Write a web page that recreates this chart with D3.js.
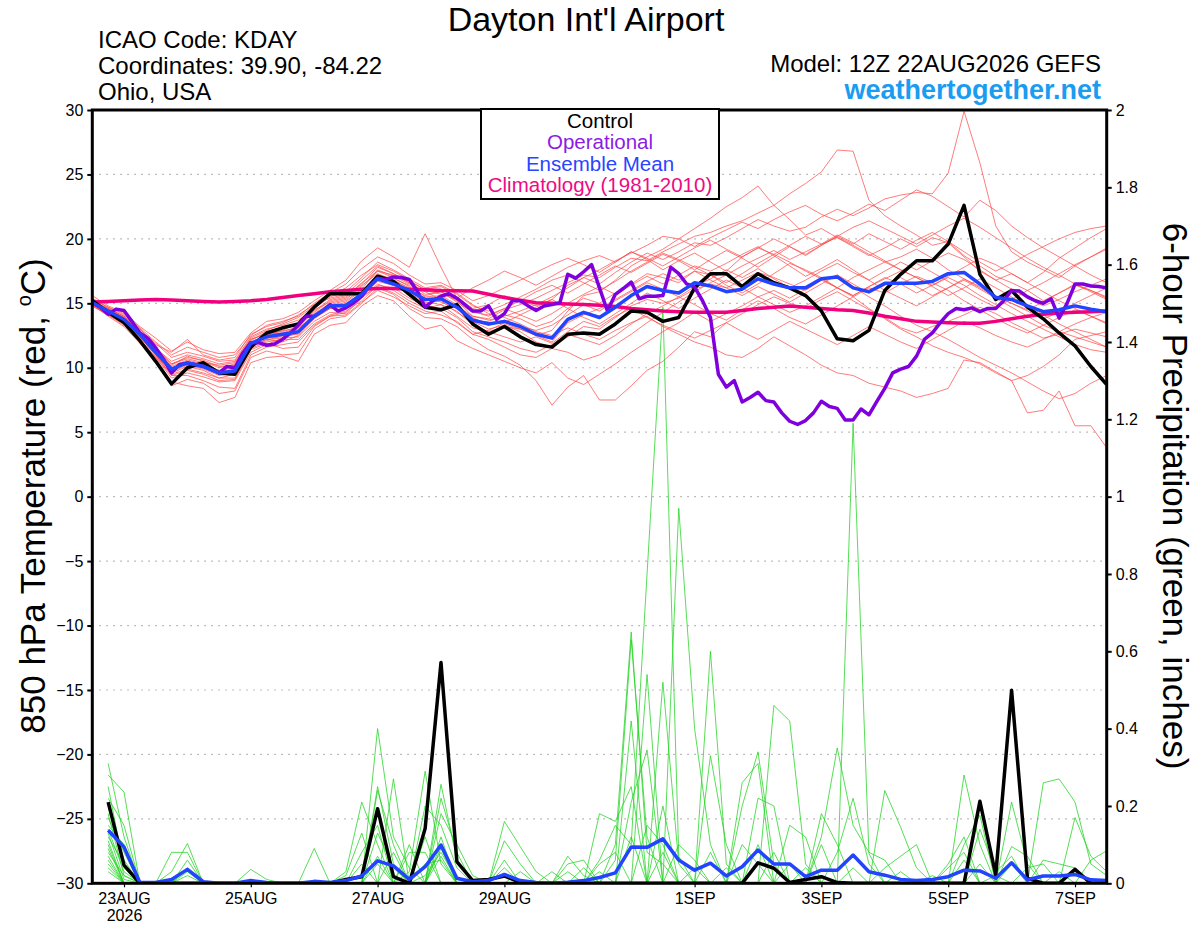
<!DOCTYPE html>
<html>
<head>
<meta charset="utf-8">
<script src="https://d3js.org/d3.v7.min.js"></script>
<style>
body { margin: 0; background: #fff; }
svg { display: block; font-family: "Liberation Sans", Arial, sans-serif; }
</style>
</head>
<body>
<svg id="chart" width="1200" height="927"></svg>
<script>
// 6-hourly steps from 12Z 22AUG2026, 65 points (index 0..64)
const tickDays = ["2026-08-23","2026-08-25","2026-08-27","2026-08-29","2026-09-01","2026-09-03","2026-09-05","2026-09-07"];
const tempTicks = [-30,-25,-20,-15,-10,-5,0,5,10,15,20,25,30];
const precipTicks = [0,0.2,0.4,0.6,0.8,1,1.2,1.4,1.6,1.8,2];

// control run, 850 hPa temperature (C)
const controlTemp = [15.2,14.3,13.5,12.1,10.5,8.75,10.0,10.4,9.6,9.5,
  11.6,12.7,13.1,13.4,14.7,15.75,15.75,15.75,17.1,16.7,
  15.7,14.7,14.5,14.9,13.4,12.6,13.2,12.4,11.8,11.6,
  12.6,12.7,12.6,13.4,14.4,14.3,13.6,13.9,16.2,17.3,
  17.3,16.3,17.3,16.6,16.2,15.6,14.4,12.25,12.1,12.9,
  16.0,17.25,18.3,18.3,19.6,22.6,17.25,15.3,16.0,14.7,
  13.8,12.7,11.7,10.1,8.7];

// ensemble mean temperature
const meanTemp = [15.05,14.4,13.75,12.6,11.2,9.9,10.4,10.1,9.6,9.75,
  11.9,12.4,12.6,12.8,14.0,14.8,14.85,15.7,16.9,16.5,
  16.0,15.3,15.35,14.7,13.7,13.4,13.6,13.2,12.6,12.3,
  13.75,14.3,13.9,14.7,15.6,16.3,16.0,15.8,16.6,16.35,
  15.9,16.1,16.9,16.5,16.2,16.2,16.9,17.05,16.2,15.9,
  16.55,16.55,16.55,16.7,17.3,17.4,16.5,15.45,15.3,14.8,
  14.35,14.5,14.8,14.55,14.35];

// climatology (1981-2010)
const climTemp = [15.1,15.15,15.2,15.25,15.3,15.25,15.2,15.15,15.1,15.15,
  15.2,15.3,15.45,15.6,15.75,15.9,16.0,16.1,16.15,16.15,
  16.1,16.05,16.0,15.98,15.95,15.7,15.45,15.25,15.05,15.0,
  14.95,14.9,14.85,14.75,14.6,14.5,14.4,14.35,14.3,14.3,
  14.3,14.45,14.6,14.7,14.8,14.7,14.6,14.5,14.45,14.25,
  14.0,13.8,13.6,13.55,13.5,13.45,13.45,13.6,13.8,14.0,
  14.15,14.25,14.3,14.35,14.4];

// operational run, 3-hourly (129 points)
const opTemp = [15.05,14.7,14.15,14.55,14.45,13.6,12.7,12.3,11.55,10.65,
  9.6,10.25,10.35,10.25,10.1,9.85,9.6,10.1,10.0,11.15,
  11.95,11.95,11.75,11.85,12.2,12.7,13.3,14.0,14.0,14.4,
  14.9,14.4,14.65,15.05,15.55,16.35,16.95,16.85,17.05,17.0,
  16.85,15.95,14.7,15.2,15.55,15.75,15.4,14.9,14.4,14.4,
  14.8,13.75,14.2,15.2,15.2,14.8,14.45,14.8,14.9,15.05,
  17.25,16.95,17.45,18.0,16.2,14.4,15.7,16.15,16.65,15.35,
  15.55,15.55,15.6,17.8,17.3,16.5,16.25,15.2,13.9,9.5,
  8.5,9.0,7.35,7.7,8.1,7.45,7.35,6.5,5.85,5.6,
  5.9,6.5,7.4,7.0,6.85,5.95,5.95,6.8,6.35,7.4,
  8.4,9.6,9.9,10.1,10.9,12.2,12.7,13.5,14.2,14.6,
  14.5,14.65,14.35,14.6,14.6,15.2,16.0,15.95,15.5,15.2,
  15.0,15.35,13.85,15.0,16.5,16.5,16.35,16.3,16.2];

// ensemble members, temperature (65 points each)
const memberTemp = [
  [15.2,14.6,13.9,12.9,11.6,10.3,10.8,10.6,10.1,10.2,12.1,12.8,13.1, 13.3,14.4,15.3,15.6,16.5,17.8,17.3,16.6,15.9,16.1,15.5,14.6,14.9, 15.6,15.2,14.8,15.3,16.4,17.0,16.5,17.4,18.2,18.9,18.4,19.0,19.7, 19.5,20.1,20.8,21.5,21.0,20.6,20.9,21.7,22.3,21.8,22.4,23.1,23.4, 23.6,23.5,25.1,29.9,25.9,21.0,19.0,18.2,17.6,17.0,17.9,18.6,19.2],
  [15.0,14.3,13.6,12.4,11.0,9.6,10.1,9.8,9.2,9.5,11.6,12.2,12.0, 12.5,13.8,14.6,14.9,15.8,17.1,16.8,16.2,15.6,15.9,15.2,14.0,13.8, 14.5,14.9,15.4,16.0,16.6,17.2,17.0,17.8,18.5,18.3,19.0,19.6,20.2, 20.5,21.0,21.4,22.0,22.6,23.5,24.3,25.2,26.9,26.8,23.0,21.8,21.0, 20.3,19.5,19.8,18.7,17.9,17.1,16.6,16.0,15.2,15.8,16.5,16.0,15.4],
  [14.9,14.2,13.5,12.2,10.8,9.2,9.6,9.3,8.9,9.0,11.2,11.8,12.3, 12.4,13.6,14.3,14.2,15.4,16.5,16.0,15.2,14.6,14.9,14.0,13.1,12.8, 13.2,13.0,12.5,12.9,14.4,15.6,15.9,16.8,17.9,18.6,19.2,20.0,20.8, 21.6,22.5,23.2,24.1,22.6,21.5,20.3,20.8,20.1,19.5,18.8,18.2,18.6, 19.2,18.5,17.6,16.9,16.2,15.5,15.0,14.4,13.8,14.3,15.0,15.6,16.2],
  [15.1,14.5,13.8,12.5,11.1,9.8,10.3,10.0,9.5,9.9,12.0,12.3,12.4, 12.9,14.1,14.7,15.1,16.0,17.2,16.9,16.4,15.5,15.6,14.9,13.6,13.0, 13.3,12.8,12.0,11.6,12.4,13.2,13.0,13.9,14.8,15.3,15.0,15.4,16.1, 16.5,16.2,16.8,17.4,17.0,16.5,16.0,16.8,17.2,16.3,15.5,14.8,14.0, 13.3,12.8,12.2,11.5,10.8,10.2,9.6,8.9,8.2,7.6,8.0,8.8,9.4],
  [14.8,14.1,13.3,12.0,10.6,8.6,9.1,8.8,8.0,8.2,10.8,11.3,11.0, 11.1,13.0,13.8,14.0,15.0,16.2,15.7,14.6,13.9,13.8,13.2,12.2,11.4, 10.9,10.2,9.0,7.1,8.5,9.4,7.5,7.5,8.6,9.8,10.5,11.6,12.8, 12.4,13.5,14.2,14.9,15.5,15.0,14.6,15.3,15.9,15.2,14.5,13.9,13.1, 12.7,13.2,13.6,14.1,14.7,14.2,13.5,12.9,12.3,12.6,13.0,12.7,12.4],
  [15.3,14.7,14.1,13.0,11.9,10.8,11.2,10.9,10.5,10.6,12.4,13.0,13.3, 13.7,14.6,15.5,15.9,17.0,18.2,17.6,16.9,16.2,16.4,15.8,14.9,14.2, 13.9,13.4,12.8,12.5,13.1,12.6,12.2,12.9,13.5,14.0,13.2,12.6,12.0, 11.6,11.0,10.8,11.5,12.4,11.7,11.0,10.2,9.6,9.4,8.8,8.5,8.2, 7.7,8.0,8.4,10.6,10.4,9.7,9.0,9.4,10.1,11.0,12.2,12.5,12.8],
  [14.9,14.3,13.7,12.6,11.3,10.1,10.6,10.3,9.8,10.0,11.8,12.5,12.9, 13.0,14.2,15.0,15.3,16.3,17.5,17.0,16.3,15.0,15.2,14.3,13.5,13.6, 14.1,13.8,13.2,13.6,14.6,15.4,15.0,15.8,16.5,17.3,17.0,16.6,17.5, 17.2,16.4,15.8,16.5,17.3,18.1,17.6,17.0,16.2,15.5,14.6,13.8,13.0, 12.4,11.7,11.2,10.8,10.3,9.6,9.0,6.5,6.7,8.2,5.5,5.5,3.8],
  [15.6,14.8,14.3,13.2,12.3,11.3,12.0,11.4,11.1,11.2,12.7,13.6,13.8, 14.3,15.2,16.0,16.8,18.3,19.3,18.6,17.8,20.4,17.8,15.4,16.2,16.8, 17.5,17.0,16.4,17.1,17.8,18.3,18.7,18.2,19.0,18.4,17.6,18.3,18.9, 18.2,17.5,18.6,19.3,18.8,19.5,20.2,19.6,20.1,19.4,18.7,19.3,20.0, 19.4,20.1,19.7,18.6,17.5,16.8,17.3,16.6,17.4,18.5,19.3,20.1,20.8],
  [15.2,14.5,13.9,12.8,11.5,10.5,11.0,10.7,10.3,10.5,12.3,12.9,13.4, 13.9,14.8,15.6,16.2,17.2,18.0,17.5,16.8,16.0,15.7,15.3,14.4,14.0, 14.6,15.2,15.9,16.4,15.8,16.5,17.2,17.9,17.4,18.1,18.8,18.3,17.6, 18.4,19.1,18.5,17.8,18.6,19.4,18.7,19.5,20.2,19.6,20.4,19.8,19.2, 19.9,20.5,19.8,19.0,18.2,17.5,18.1,18.8,19.4,20.0,20.5,20.8,21.0],
  [14.9,14.2,13.4,12.1,10.9,9.5,9.9,9.6,9.2,9.2,11.5,12.0,12.2, 12.2,13.4,14.1,14.4,15.2,16.4,16.2,15.4,14.8,14.6,13.9,12.8,12.4, 12.0,11.5,11.2,11.8,12.6,12.2,11.8,12.5,13.4,14.2,14.8,15.5,14.9, 14.2,13.7,14.5,15.2,14.6,13.9,13.4,14.1,14.8,15.5,16.2,15.8,16.5, 17.1,16.6,16.0,15.2,14.5,13.8,13.2,12.7,13.3,12.8,12.4,12.0,11.6],
  [14.9,14.0,13.2,11.9,10.5,8.9,8.6,8.4,7.3,7.7,10.4,10.8,10.9, 10.5,12.6,13.3,13.5,14.8,15.6,15.2,14.0,13.0,13.3,12.1,11.5,11.0, 10.5,10.0,9.6,10.4,9.2,8.7,9.5,10.3,11.2,12.0,12.8,13.5,14.3, 13.6,14.2,14.8,15.5,16.0,15.4,16.1,16.8,16.2,15.6,16.3,17.0,16.5, 15.8,16.4,17.0,16.4,15.6,14.9,14.2,13.6,13.0,12.4,11.8,11.4,11.2],
  [15.0,14.4,13.7,12.5,11.3,10.0,10.4,10.2,9.7,9.9,11.9,12.6,12.7, 13.1,14.0,14.9,15.2,16.1,17.6,17.1,16.5,15.9,15.3,14.8,14.0,13.7, 14.0,14.4,14.9,15.5,16.2,17.0,17.6,18.3,18.9,19.5,20.2,20.0,19.4, 20.1,20.7,21.3,20.8,21.5,22.1,22.6,21.9,21.4,22.0,22.7,22.2,23.0, 23.8,23.3,22.5,21.7,23.0,22.2,21.0,20.1,19.3,18.6,17.9,17.2,16.6],
  [15.1,14.6,14.0,12.8,11.4,10.2,10.9,10.5,10.0,10.3,12.2,12.6,12.9, 13.5,14.5,15.1,15.4,16.4,17.3,16.8,16.1,15.3,15.5,14.7,13.9,13.3, 13.7,13.2,12.9,13.3,14.1,14.9,14.4,15.2,15.9,16.6,16.1,15.5,16.3, 16.9,17.6,17.0,17.7,16.9,16.2,16.8,17.5,18.1,17.4,16.8,17.5,18.2, 17.6,18.3,18.9,18.4,17.6,16.8,16.1,15.4,14.8,15.3,15.9,16.4,16.9],
  [15.0,14.3,13.5,12.3,11.0,9.7,10.2,9.9,9.4,9.6,11.7,12.1,12.5, 12.6,13.9,14.6,14.7,15.6,16.7,16.4,15.8,15.1,14.9,14.4,13.3,12.8, 12.4,12.0,12.4,11.9,12.8,13.6,13.2,14.0,14.6,13.9,13.3,12.8,12.3, 12.9,13.5,12.8,12.2,12.9,13.6,13.0,12.4,11.8,12.5,13.2,12.6,12.0, 11.5,12.2,12.9,13.6,13.1,12.5,12.0,11.6,12.2,12.8,13.4,13.9,14.3],
  [15.4,14.7,14.2,13.1,12.0,11.0,11.6,11.2,10.8,11.0,12.5,13.3,13.6, 14.0,15.0,15.8,16.5,17.7,18.6,18.1,17.2,16.5,16.6,16.0,15.2,15.6, 16.2,16.8,17.4,18.0,18.5,18.0,17.4,18.2,19.0,18.5,17.9,18.6,19.3, 19.9,19.2,18.6,19.3,20.0,19.4,18.8,19.5,20.2,20.9,21.4,20.8,20.2, 19.6,20.3,21.0,21.6,20.9,20.1,19.3,18.5,17.8,17.2,16.5,15.9,15.3],
  [15.0,14.4,13.8,12.7,11.2,9.9,10.5,10.2,9.8,9.7,11.8,12.2,12.3, 12.7,14.0,14.7,14.8,15.9,16.8,16.6,16.0,15.4,15.1,14.6,13.8,13.5, 13.4,13.0,12.5,12.0,13.5,14.1,14.6,15.3,16.0,16.7,17.3,16.8,17.5, 16.8,16.2,15.6,16.3,15.7,15.1,15.8,16.5,17.2,16.5,15.8,16.4,17.0, 16.3,15.6,16.2,16.8,16.1,15.4,14.7,14.0,13.3,13.9,14.5,14.0,13.5],
  [15.2,14.6,14.0,13.0,11.8,11.2,12.2,11.0,10.6,10.8,12.6,13.2,13.5, 14.1,14.9,15.4,15.7,16.8,17.9,17.3,16.7,16.1,16.3,15.7,14.8,14.4, 14.9,15.5,16.1,16.8,17.2,16.6,16.0,16.7,17.5,18.2,18.9,18.4,17.8, 17.2,16.6,17.3,18.1,18.8,18.2,17.5,16.9,16.2,15.6,16.3,16.9,17.5, 18.1,17.4,16.7,16.0,15.3,14.7,15.3,16.0,16.6,17.3,18.0,18.6,19.3],
  [14.8,14.1,13.4,12.2,10.8,9.4,9.4,9.0,8.5,8.4,11.0,11.6,11.8, 12.0,13.3,14.0,14.3,15.5,16.3,15.8,15.0,14.4,14.1,13.6,12.6,12.2, 11.6,11.0,10.8,11.5,11.2,10.6,11.0,11.8,12.6,13.5,14.3,15.1,15.9, 16.6,17.2,17.9,18.5,19.1,18.4,19.0,19.6,20.3,19.7,19.0,18.3,17.6, 17.0,16.3,15.6,16.2,16.9,16.2,15.5,14.8,14.1,13.4,12.8,12.2,11.6],
  [15.1,14.5,13.9,12.7,11.4,10.3,10.7,10.4,10.2,10.4,12.2,12.7,12.8, 13.2,14.3,15.2,15.5,16.6,17.5,17.2,16.6,15.7,15.9,15.1,14.3,14.1, 14.6,14.1,13.6,14.2,15.0,15.7,16.3,15.7,16.4,17.1,16.5,17.2,17.9, 17.5,18.1,18.8,19.4,18.7,17.9,17.1,17.7,18.4,17.6,16.8,16.0,15.4, 14.8,15.5,16.2,16.9,16.3,15.6,15.0,14.5,15.1,15.8,16.4,16.0,15.5],
  [14.9,14.2,13.6,12.4,11.0,9.4,9.8,9.5,9.0,9.1,11.4,11.9,11.5, 11.6,13.2,14.0,14.1,15.1,16.0,15.5,14.8,14.2,14.4,13.5,12.6,12.9, 13.5,14.1,14.7,15.3,14.6,13.9,13.4,14.2,15.0,15.8,15.2,14.6,15.4, 16.1,16.8,16.2,15.5,14.9,14.3,14.8,15.5,16.2,17.0,17.6,18.2,17.6, 17.0,16.4,17.1,17.8,18.5,18.0,17.3,16.6,15.9,15.2,14.6,14.0,13.4]
];

// 6-hour precipitation (inches), steps 1..64
const controlPrecip = [0.21,0.047,0,0,0,0,0,0,0,0, 0,0,0,0,0,0.01,0.017,0.193,0.017,0,
  0.142,0.571,0.056,0.007,0.01,0.019,0.002,0,0,0, 0,0,0,0,0,0,0,0,0,0,
  0,0.053,0.039,0.002,0.01,0.017,0.002,0,0,0, 0,0,0,0,0,0.212,0.021,0.499,0.013,0,
  0,0.036,0,0];
const meanPrecip = [0.137,0.094,0.002,0.002,0.01,0.036,0.004,0,0,0.007,
  0.002,0,0,0.005,0.002,0.007,0.019,0.058,0.045,0.01,
  0.043,0.099,0.013,0.004,0.007,0.023,0.007,0.002,0,0.003,
  0.007,0.015,0.027,0.094,0.093,0.115,0.06,0.034,0.052,0.019,
  0.043,0.086,0.05,0.05,0.017,0.034,0.034,0.073,0.03,0.021,
  0.01,0.007,0.01,0.017,0.034,0.032,0.013,0.053,0.009,0.019,
  0.019,0.023,0.009,0.007];

const memberPrecip = [
  [.12,.05,0,0,0,0,0,0,0,0,0,0,0,0,0,0, 0,.13,.04,0,.02,.08,.01,0,0,0,0,0,0,0,0,.06, .15,.1,.8,1.49,.07,0,0,0,0,0,0,0,0,0,0,0, 0,0,0,0,0,0,0,0,.02,0,0,0,0,0,0,0],
  [.28,.236,0,0,0,.03,0,0,0,0,0,0,0,0,0,0, 0,0,.08,0,0,.256,.06,0,0,0,0,0,0,0,0,0, 0,0,0,0,.97,.4,.1,0,0,0,0,0,0,0,0,0, 0,0,0,0,0,.04,.08,0,0,0,0,0,0,0,0,0],
  [.08,.02,0,0,0,0,0,0,0,0,0,0,0,0,0,0, .08,.15,0,0,0,.09,0,0,0,0,0,0,0,0,0,.03, 0,0,0,0,0,0,.33,.1,0,0,0,0,0,0,0,1.19, .077,0,0,0,0,0,0,0,0,0,0,0,.03,0,0,0],
  [.15,.1,0,0,.03,.103,0,0,0,0,0,0,0,0,0,0, 0,0,0,0,.05,.06,0,0,0,.06,0,0,0,0,0,0, 0,0,0,.2,0,0,0,0,0,0,.46,.42,.05,0,0,0, 0,0,0,0,0,0,0,0,0,0,.04,.05,0,0,0,0],
  [.2,.06,0,0,0,0,0,0,0,0,0,0,0,0,0,.03, .21,.1,0,0,0,0,0,0,0,0,0,0,0,0,.04,0, 0,.42,0,0,0,0,0,0,.1,.05,0,0,0,0,0,0, 0,0,0,0,0,0,.28,.1,0,0,0,0,0,0,0,0],
  [.05,0,0,0,0,0,0,0,0,0,0,0,0,0,0,0, 0,.4,.12,.04,0,0,0,0,0,0,0,0,0,0,0,0, .1,.65,.08,.05,0,0,0,0,0,0,0,0,0,0,0,0, 0,.04,.07,.1,0,0,0,0,0,0,0,0,0,0,0,0],
  [.31,.12,0,0,0,.02,0,0,0,0,0,0,0,0,0,0, 0,0,0,.03,.29,.05,0,0,0,0,0,0,0,0,0,0, 0,0,.54,0,0,0,0,0,0,0,.08,0,0,0,0,0, 0,0,0,0,0,.05,.12,0,0,0,0,0,0,0,0,0],
  [.1,0,0,0,0,0,0,0,0,0,0,0,0,0,0,0, 0,.24,.1,0,0,0,0,0,0,.11,.05,0,0,0,0,0, 0,0,0,0,0,0,.6,.05,0,0,0,0,0,0,0,0, 0,0,0,0,0,0,0,0,0,.095,.07,0,0,0,0,0],
  [.17,.08,0,0,.08,.08,0,0,0,0,0,0,0,0,0,0, 0,0,0,0,.2,.15,.04,0,0,0,0,0,0,0,0,0, 0,0,0,.52,.05,0,0,0,0,0,0,0,0,0,0,0, 0,0,0,0,0,0,.1,.176,0,0,0,0,0,0,0,0],
  [.06,0,0,0,0,0,0,0,0,0,0,0,0,0,0,.02, .13,0,0,0,0,.12,0,0,0,0,0,0,0,0,0,0, .06,.63,.12,0,0,0,0,0,0,0,0,0,0,.1,0,0, 0,0,.03,0,0,0,0,0,0,0,0,0,0,0,.06,.084],
  [.14,.03,0,0,0,0,0,0,0,0,0,0,0,0,0,0, 0,.25,.05,0,0,0,0,0,0,0,0,0,0,.07,.02,0, 0,0,0,0,0,.04,0,0,.2,.34,.05,0,0,0,0,0, 0,0,0,0,0,0,0,0,0,.21,.05,0,0,0,0,0],
  [.22,.15,0,0,0,.06,0,0,0,0,0,0,0,0,0,0, 0,0,.27,0,0,.07,0,0,0,0,0,0,0,0,0,0, 0,.21,.345,0,0,0,0,0,0,0,0,.05,0,0,0,0, 0,0,0,0,.02,0,0,0,0,0,0,.26,.27,.21,.05,.02],
  [.09,0,0,0,0,0,0,0,0,.036,.01,0,0,0,0,0, 0,0,0,0,0,0,0,0,0,.04,0,0,.03,0,0,0, 0,0,0,0,.1,.06,0,0,0,0,0,0,0,0,0,.04, 0,0,0,0,0,0,.06,0,0,0,0,0,0,0,0,0],
  [.04,0,0,0,0,0,0,0,0,0,0,0,0,0,0,0, .05,0,0,.08,.08,0,0,0,0,0,0,0,0,0,0,.18, .16,.25,0,0,0,0,0,0,0,0,0,0,0,.12,.35,.15, .08,.06,0,0,0,0,0,0,0,0,0,0,0,0,0,0],
  [.25,.04,0,0,0,.04,0,0,0,0,0,0,0,0,0,0, 0,0,0,0,0,.22,.08,0,0,0,0,0,0,0,0,.05, .08,0,0,0,0,0,0,0,0,.22,.2,0,0,0,0,0, 0,0,0,0,0,0,0,0,0,.05,0,0,0,0,0,0],
  [.07,0,0,0,0,0,0,0,0,0,0,0,0,0,0,0, 0,.07,0,.1,0,0,0,0,0,0,.03,0,0,0,0,0, 0,0,.15,.1,0,0,0,0,0,0,0,.15,.12,0,0,0, 0,0,0,0,0,0,0,.14,.03,.07,0,0,0,0,0,0],
  [.11,0,0,0,0,0,0,0,0,0,0,0,0,.09,0,0, 0,0,0,0,.12,0,0,0,0,0,0,0,0,.03,0,0, 0,.12,0,0,0,0,.08,0,0,0,0,0,0,.18,.1,0, 0,0,0,0,0,0,0,0,0,0,0,.06,.05,.04,0,0],
  [.13,.01,0,0,0,0,0,0,0,0,0,0,0,0,0,0, 0,0,0,0,0,.18,.1,.02,0,0,0,0,0,0,0,0, 0,0,0,0,0,0,0,.04,0,0,0,0,0,0,.08,.22, .05,0,0,0,0,0,0,0,0,0,0,0,0,0,0,0],
  [.18,.02,0,0,0,0,0,0,0,0,0,0,0,0,0,0, 0,.05,0,0,0,0,0,0,0,0,0,0,0,.05,.06,0, 0,0,0,.08,0,0,0,0,.26,.31,0,0,0,0,0,0, 0,.24,.145,.04,0,0,0,0,0,0,0,0,0,0,0,0],
  [.03,0,0,0,0,0,0,0,0,0,0,0,0,0,0,0, 0,0,0,0,0,.1,0,0,0,.16,.095,.03,0,0,0,0, 0,0,0,0,0,0,0,0,0,.1,0,0,.04,0,0,0, 0,0,0,0,0,0,0,.05,0,0,0,0,0,.17,.07,.03]
];

const W = 1200, H = 927;
const margin = {top: 110, right: 93.3, bottom: 43.7, left: 92.3};
const svg = d3.select("#chart");
svg.append("rect").attr("width", W).attr("height", H).attr("fill", "#fff");

const start = new Date(Date.UTC(2026, 7, 22, 12));
const step = i => d3.utcHour.offset(start, 6 * i);
const x = d3.scaleUtc().domain([start, step(64)]).range([margin.left, W - margin.right]);
const yT = d3.scaleLinear().domain([-30, 30]).range([H - margin.bottom, margin.top]);
const yP = d3.scaleLinear().domain([0, 2]).range([H - margin.bottom, margin.top]);

svg.append("clipPath").attr("id", "plot-clip")
  .append("rect")
  .attr("x", margin.left).attr("y", margin.top)
  .attr("width", W - margin.left - margin.right)
  .attr("height", H - margin.top - margin.bottom);

// dotted grid at the temperature ticks
svg.append("g").selectAll("line")
  .data(tempTicks.filter(v => v > -30 && v < 30))
  .join("line")
  .attr("x1", margin.left).attr("x2", W - margin.right)
  .attr("y1", d => yT(d)).attr("y2", d => yT(d))
  .attr("stroke", "#a8a8a8").attr("stroke-width", 1.2)
  .attr("stroke-dasharray", "1.5,5.5");

const plot = svg.append("g").attr("clip-path", "url(#plot-clip)");

const tempLine = d3.line().x((d, i) => x(step(i))).y(d => yT(d));
const opLine = d3.line().x((d, i) => x(d3.utcHour.offset(start, 3 * i))).y(d => yT(d));
const precipLine = d3.line().x((d, i) => x(step(i + 1))).y(d => yP(d));

plot.append("g").selectAll("path").data(memberTemp).join("path")
  .attr("d", tempLine)
  .attr("fill", "none").attr("stroke", "#ff4848")
  .attr("stroke-width", 0.9).attr("stroke-opacity", 0.8);

plot.append("g").selectAll("path").data(memberPrecip).join("path")
  .attr("d", precipLine)
  .attr("fill", "none").attr("stroke", "#22d422")
  .attr("stroke-width", 0.9).attr("stroke-opacity", 0.85);

plot.append("path").datum(climTemp).attr("d", tempLine)
  .attr("fill", "none").attr("stroke", "#f0007f").attr("stroke-width", 3.5);

plot.append("path").datum(controlPrecip).attr("d", precipLine)
  .attr("fill", "none").attr("stroke", "#000").attr("stroke-width", 3.5)
  .attr("stroke-linejoin", "round");
plot.append("path").datum(meanPrecip).attr("d", precipLine)
  .attr("fill", "none").attr("stroke", "#2244ff").attr("stroke-width", 3.5)
  .attr("stroke-linejoin", "round");

plot.append("path").datum(controlTemp).attr("d", tempLine)
  .attr("fill", "none").attr("stroke", "#000").attr("stroke-width", 3.5)
  .attr("stroke-linejoin", "round");
plot.append("path").datum(opTemp).attr("d", opLine)
  .attr("fill", "none").attr("stroke", "#7f00dc").attr("stroke-width", 3.5)
  .attr("stroke-linejoin", "round");
plot.append("path").datum(meanTemp).attr("d", tempLine)
  .attr("fill", "none").attr("stroke", "#2244ff").attr("stroke-width", 3.5)
  .attr("stroke-linejoin", "round");

// axes
const styleAxis = g => {
  g.select(".domain").remove();
  g.attr("font-size", 16).attr("font-family", "'Liberation Sans', Arial, sans-serif");
  g.selectAll(".tick line").attr("stroke-width", 2);
  g.selectAll(".tick text").attr("fill", "#000");
};

svg.append("g").attr("transform", `translate(${margin.left},0)`)
  .call(d3.axisLeft(yT).tickValues(tempTicks).tickSize(5).tickPadding(4))
  .call(styleAxis);

svg.append("g").attr("transform", `translate(${W - margin.right},0)`)
  .call(d3.axisRight(yP).tickValues(precipTicks).tickSize(5).tickPadding(4).tickFormat(d => String(+d.toFixed(1))))
  .call(styleAxis);

const fmtDay = d3.utcFormat("%-d%b");
const xAxis = svg.append("g").attr("transform", `translate(0,${H - margin.bottom})`)
  .call(d3.axisBottom(x).tickValues(tickDays.map(s => new Date(s + "T00:00:00Z")))
    .tickSize(4).tickPadding(5).tickFormat(d => fmtDay(d).toUpperCase()))
  .call(styleAxis);
xAxis.selectAll(".tick line").attr("stroke-width", 1.2);
xAxis.select(".tick text").append("tspan").attr("x", 0).attr("dy", "1.1em").text("2026");

// frame
svg.append("rect")
  .attr("x", margin.left).attr("y", margin.top)
  .attr("width", W - margin.left - margin.right)
  .attr("height", H - margin.top - margin.bottom)
  .attr("fill", "none").attr("stroke", "#000").attr("stroke-width", 3);

// header texts
svg.append("text").attr("x", 586).attr("y", 31).attr("text-anchor", "middle")
  .attr("font-size", 34).text("Dayton Int'l Airport");
const left = svg.append("g").attr("font-size", 24);
left.append("text").attr("x", 98).attr("y", 48).text("ICAO Code: KDAY");
left.append("text").attr("x", 98).attr("y", 74).text("Coordinates: 39.90, -84.22");
left.append("text").attr("x", 98).attr("y", 100).text("Ohio, USA");
svg.append("text").attr("x", 1101).attr("y", 72).attr("text-anchor", "end")
  .attr("font-size", 24).text("Model: 12Z 22AUG2026 GEFS");
svg.append("text").attr("x", 1101).attr("y", 99).attr("text-anchor", "end")
  .attr("font-size", 27).attr("font-weight", "bold").attr("fill", "#1a9cf0")
  .text("weathertogether.net");

// axis titles
const lt = svg.append("text").attr("transform", "translate(45,496) rotate(-90)")
  .attr("text-anchor", "middle").attr("font-size", 35);
lt.append("tspan").text("850 hPa Temperature (red, ");
lt.append("tspan").attr("font-size", 20).attr("dy", -14).text("o");
lt.append("tspan").attr("dy", 14).text("C)");
svg.append("text").attr("transform", "translate(1163,496) rotate(90)")
  .attr("text-anchor", "middle").attr("font-size", 35)
  .text("6-hour Precipitation (green, inches)");

// legend
const legend = svg.append("g");
legend.append("rect").attr("x", 481).attr("y", 109).attr("width", 238).attr("height", 90)
  .attr("fill", "#fff").attr("stroke", "#000").attr("stroke-width", 2);
const legendItems = [["Control", "#000"], ["Operational", "#8a1ce6"], ["Ensemble Mean", "#2a44ff"], ["Climatology (1981-2010)", "#ee0a86"]];
legend.selectAll("text").data(legendItems).join("text")
  .attr("x", 600).attr("y", (d, i) => 128 + i * 21.3)
  .attr("text-anchor", "middle").attr("font-size", 20.5)
  .attr("fill", d => d[1]).text(d => d[0]);
</script>
</body>
</html>
